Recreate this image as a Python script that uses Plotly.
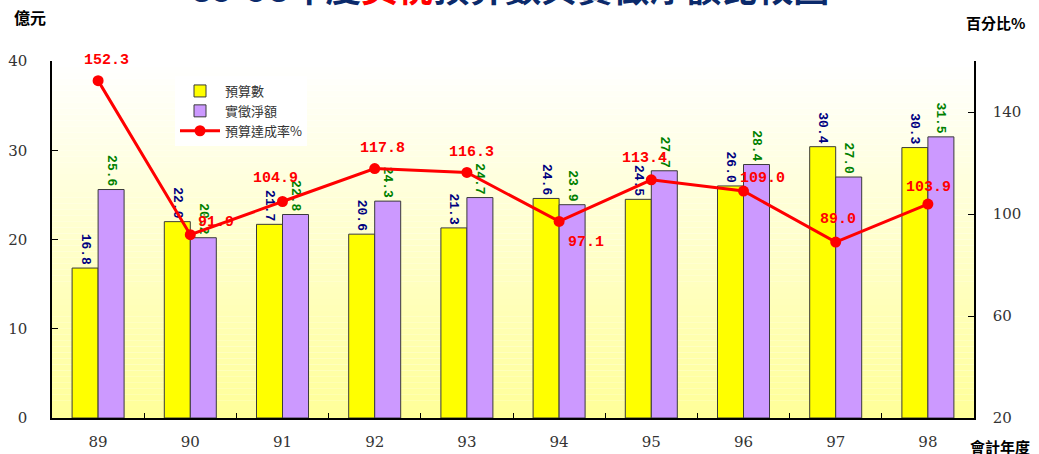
import plotly.graph_objects as go

years = ["89", "90", "91", "92", "93", "94", "95", "96", "97", "98"]
budget = [16.8, 22.0, 21.7, 20.6, 21.3, 24.6, 24.5, 26.0, 30.4, 30.3]
actual = [25.6, 20.2, 22.8, 24.3, 24.7, 23.9, 27.7, 28.4, 27.0, 31.5]
rate = [152.3, 91.9, 104.9, 117.8, 116.3, 97.1, 113.4, 109.0, 89.0, 103.9]

# label offsets (pixels) for the rate labels
rate_shift = [(8, 20), (26, 12), (-7, 23), (8, 20), (5, 20), (27, -21),
              (-7, 21), (19, 13), (2, 23), (1, 17)]

W, H = 1039, 454
ML, MR, MT, MB = 52, 65, 61, 36

fig = go.Figure()

label_font = "Liberation Mono"
fig.add_trace(go.Bar(
    x=years, y=budget, name="預算數",
    marker=dict(color="#FFFF00", line=dict(color="#3a3a3a", width=1)),
    texttemplate="%{y:.1f}", textposition="outside", textangle=90,
    constraintext="none", cliponaxis=False,
    outsidetextfont=dict(family=label_font, size=13, color="#000080", weight="bold"),
))
fig.add_trace(go.Bar(
    x=years, y=actual, name="實徵淨額",
    marker=dict(color="#CC99FF", line=dict(color="#3a3a3a", width=1)),
    texttemplate="%{y:.1f}", textposition="outside", textangle=90,
    constraintext="none", cliponaxis=False,
    outsidetextfont=dict(family=label_font, size=13, color="#008000", weight="bold"),
))
fig.add_trace(go.Scatter(
    x=years, y=rate, name="預算達成率%", yaxis="y2",
    mode="lines+markers",
    line=dict(color="#FF0000", width=3),
    marker=dict(color="#FF0000", size=11),
    cliponaxis=False,
))

annotations = []
for i, (v, (dx, dy)) in enumerate(zip(rate, rate_shift)):
    annotations.append(dict(
        x=i, y=v, xref="x", yref="y2", text=f"{v:.1f}", showarrow=False,
        xshift=dx, yshift=dy,
        font=dict(family=label_font, size=15, color="#FF0000", weight="bold"),
    ))

cjk = "Noto Sans CJK TC"
plot_h = H - MT - MB
plot_w = W - ML - MR


def px_x(p):
    return (p - ML) / plot_w


def px_y(p):
    return (H - MB - p) / plot_h


annotations += [
    dict(xref="paper", yref="paper", x=px_x(510), y=px_y(-14),
         text="89-98年度<span style='color:#FF0000'>契稅</span>預算數與實徵淨額比較圖",
         showarrow=False, xanchor="center", yanchor="middle",
         font=dict(family=cjk, size=36, color="#0B2A6B", weight="bold")),
    dict(xref="paper", yref="paper", x=px_x(30), y=px_y(17),
         text="億元", showarrow=False, xanchor="center", yanchor="middle",
         font=dict(family=cjk, size=16, color="#000000", weight="bold")),
    dict(xref="paper", yref="paper", x=px_x(995), y=px_y(23),
         text="百分比%", showarrow=False, xanchor="center", yanchor="middle",
         font=dict(family=cjk, size=15, color="#000000", weight="bold")),
    dict(xref="paper", yref="paper", x=px_x(1000), y=px_y(446),
         text="會計年度", showarrow=False, xanchor="center", yanchor="middle",
         font=dict(family=cjk, size=15, color="#000000", weight="bold")),
]

# vertical gradient background (white -> light yellow)
shapes = []
n = 60
for i in range(n):
    t = i / (n - 1)
    b = int(round(0x99 + (0xFF - 0x99) * t))
    shapes.append(dict(type="rect", xref="paper", yref="paper",
                       x0=0, x1=1, y0=i / n, y1=(i + 1) / n,
                       fillcolor=f"rgb(255,255,{b})", line=dict(width=0),
                       layer="below"))

tick_font = dict(family="DejaVu Serif", size=15, color="#333333")

fig.update_layout(
    width=W, height=H,
    margin=dict(l=ML, r=MR, t=MT, b=MB),
    paper_bgcolor="white", plot_bgcolor="white",
    barmode="group", bargap=0.436, bargroupgap=0,
    showlegend=True,
    legend=dict(x=px_x(175), y=px_y(76),
                xanchor="left", yanchor="top",
                bgcolor="rgba(255,255,255,0.95)",
                font=dict(family=cjk, size=13, color="#333333"),
                tracegroupgap=2, itemwidth=40),
    xaxis=dict(type="category", showline=True, linecolor="black", linewidth=1.5,
               ticks="inside", ticklen=5, tickcolor="black", tickson="boundaries",
               tickfont=tick_font, ticklabelstandoff=9, showgrid=False,
               zeroline=False, automargin=False, range=[-0.5, 9.5]),
    yaxis=dict(range=[0, 40], dtick=10, showline=True, linecolor="black",
               linewidth=1.5, ticks="inside", ticklen=6, tickcolor="black",
               tickfont=tick_font, ticklabelstandoff=20, showgrid=False,
               zeroline=False, automargin=False),
    yaxis2=dict(range=[20, 160], tickvals=[20, 60, 100, 140], overlaying="y",
                side="right", showline=True, linecolor="black", linewidth=1.5,
                ticks="inside", ticklen=6, tickcolor="black",
                tickfont=tick_font, ticklabelstandoff=14, showgrid=False,
                zeroline=False, automargin=False),
    annotations=annotations,
    shapes=shapes,
)

fig.write_html("out.html",
               config={"displayModeBar": False},
               post_script="document.body.style.margin='0';document.body.style.overflow='hidden';")
